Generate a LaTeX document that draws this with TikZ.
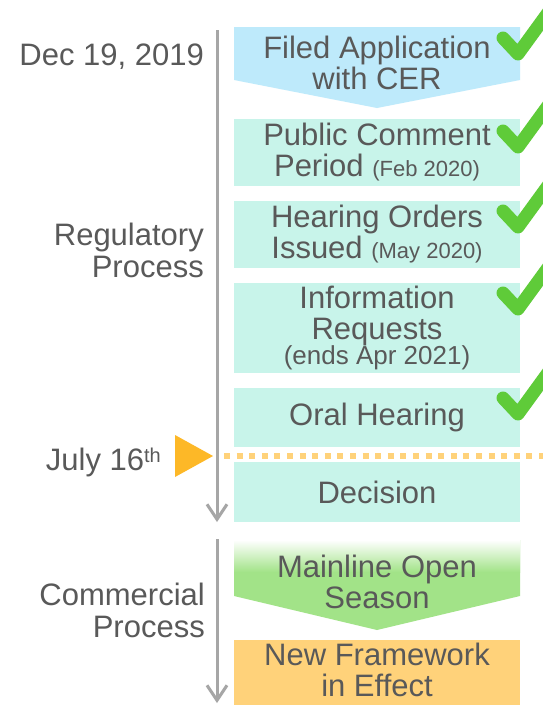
\documentclass[tikz,border=0pt]{standalone}
\usepackage{fontspec}
\setmainfont{Liberation Sans}
\usetikzlibrary{arrows.meta}

\definecolor{skyblue}{HTML}{BEEAFB}
\definecolor{mint}{HTML}{C8F4EA}
\definecolor{greenbox}{HTML}{A2E388}
\definecolor{orangebox}{HTML}{FFD27A}
\definecolor{marker}{HTML}{FDB827}
\definecolor{checkgreen}{HTML}{5FCB39}
\definecolor{linegray}{HTML}{A6A6A6}
\definecolor{txtgray}{HTML}{595959}

\begin{document}
\begin{tikzpicture}[x=1pt, y=-1pt,
    stagebox/.style={minimum width=286pt, inner sep=0pt, align=center, text=txtgray, font=\fontsize{31}{31}\selectfont},
    sidetext/.style={align=right, anchor=base east, inner sep=0pt, text=txtgray, font=\fontsize{31}{32}\selectfont},
    timeline/.style={draw=linegray, line width=3pt, -{Straight Barb[length=15pt, width=20pt]}},
    donemark/.style={draw=checkgreen, line width=13pt, line cap=round, line join=round}]
    \useasboundingbox (0,0) rectangle (543,705);
    \clip (0,0) rectangle (543,705);
    \fill[white] (0,0) rectangle (543,705);

    % Zeitachsen links
    \coordinate (regtop) at (217,30);
    \coordinate (regend) at (217,522);
    \coordinate (comtop) at (217,539);
    \coordinate (comend) at (217,703);
    \draw[timeline] (regtop) -- (regend);
    \draw[timeline] (comtop) -- (comend);

    % Beschriftungen links
    \node[sidetext] (date) at (204,65) {Dec 19, 2019};
    \node[sidetext] (regulatory) at (204,277) {Regulatory\\Process};
    \node[sidetext] (july) at (161,470) {July 16\raisebox{8pt}{\fontsize{20}{20}\selectfont th}};
    \node[sidetext] (commercial) at (205,637) {Commercial\\Process};

    % Antrag (Pfeilform)
    \fill[skyblue] (234,27) -- (520,27) -- (520,80) -- (377,108) -- (234,80) -- cycle;
    \node[stagebox] (filed) at (377,63) {Filed Application\\with CER};

    % Verfahrensschritte
    \node[stagebox, fill=mint, minimum height=67pt] (comment) at (377,152.5)
        {Public Comment\\Period {\fontsize{22}{22}\selectfont (Feb 2020)}};
    \node[stagebox, fill=mint, minimum height=67pt] (orders) at (377,234.5)
        {Hearing Orders\\Issued {\fontsize{22}{22}\selectfont (May 2020)}};
    \node[stagebox, fill=mint, minimum height=90pt] (requests) at (377,328)
        {Information\\Requests\\[-6pt]{\fontsize{26}{26}\selectfont (ends Apr 2021)}};
    \node[stagebox, fill=mint, minimum height=59pt] (oral) at (377,417.5) {Oral Hearing};
    \node[stagebox, fill=mint, minimum height=60pt] (decision) at (377,492) {Decision};

    % Open Season (Pfeilform mit Verlauf)
    \fill[greenbox] (234,540) -- (520,540) -- (520,596) -- (377,630) -- (234,596) -- cycle;
    \shade[top color=white, bottom color=greenbox] (234,540) rectangle (520,572);
    \node[stagebox] (season) at (377,582) {Mainline Open\\Season};

    \fill[orangebox] (234,640) rectangle (520,708);
    \node[stagebox] (framework) at (377,670) {New Framework\\in Effect};

    % heutiger Stand
    \fill[marker] (175,435) -- (213,456) -- (175,477) -- cycle;
    \draw[orangebox, line width=6pt, dash pattern=on 6pt off 6.6pt] (224,456) -- (548,456);

    % Haken fuer erledigte Schritte
    \foreach \vy in {54,147,227,309,414}
        \draw[donemark] ({503},{\vy-16}) -- ({518},{\vy}) -- ({550},{\vy-44});
\end{tikzpicture}
\end{document}
